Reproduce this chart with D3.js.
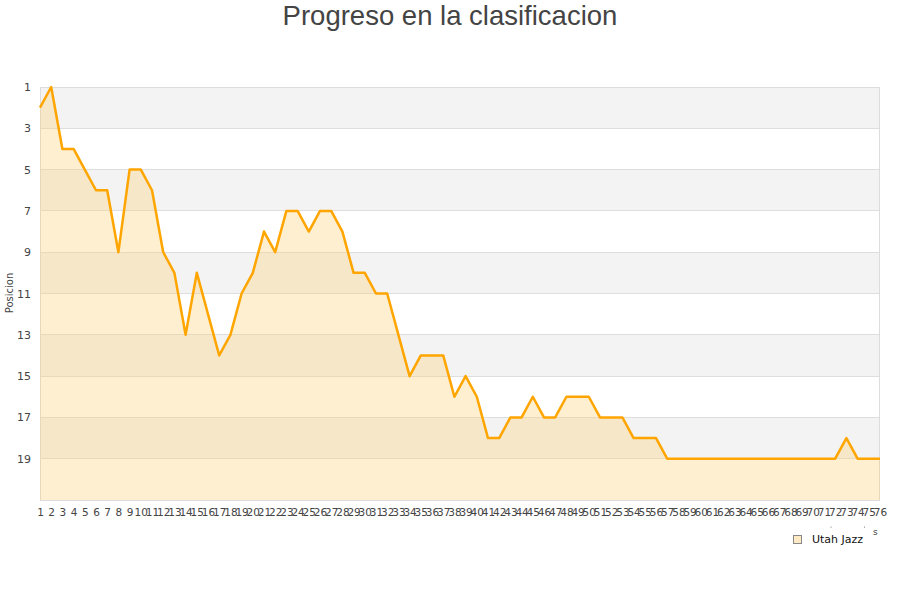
<!DOCTYPE html>
<html><head><meta charset="utf-8">
<script src="https://cdn.jsdelivr.net/npm/d3@7"></script>
<style>body{margin:0;background:#fff}svg{display:block}</style>
</head><body><svg id="c" width="900" height="600"></svg>
<script>
const jornadas = d3.range(1, 77);
const posiciones = [2,1,4,4,5,6,6,9,5,5,6,9,10,13,10,12,14,13,11,10,8,9,7,7,8,7,7,8,10,10,11,11,13,15,14,14,14,16,15,16,18,18,17,17,16,17,17,16,16,16,17,17,17,18,18,18,19,19,19,19,19,19,19,19,19,19,19,19,19,19,19,19,18,19,19,19];
const yTicks = [1,3,5,7,9,11,13,15,17,19];
const serieNombre = "Utah Jazz";
const titulo = "Progreso en la clasificacion";

const svg = d3.select("#c");
const L = 40, R = 880, T = 87, B = 500;
const x = d3.scalePoint().domain(jornadas).range([L, R]);
const y = d3.scaleLinear().domain([1, 21]).range([T, B]);

// bands
const bands = d3.range(1, 21, 2);
svg.selectAll("rect.band").data(bands).enter().append("rect")
  .attr("x", L).attr("width", R - L)
  .attr("y", d => y(d)).attr("height", d => y(d + 2) - y(d))
  .attr("fill", (d, i) => i % 2 === 0 ? "#f3f3f3" : "#ffffff");

// grid lines
svg.selectAll("line.grid").data(yTicks).enter().append("line")
  .attr("x1", L).attr("x2", R).attr("y1", d => y(d)).attr("y2", d => y(d))
  .attr("stroke", "#dedede").attr("stroke-width", 1).attr("shape-rendering", "crispEdges");

// plot border
svg.append("rect").attr("x", L + 0.5).attr("y", T + 0.5).attr("width", R - L - 1).attr("height", B - T)
  .attr("fill", "none").attr("stroke", "#dcdcdc").attr("shape-rendering", "crispEdges");

const data = jornadas.map((j, i) => ({j, p: posiciones[i]}));

svg.append("path").datum(data)
  .attr("d", d3.area().x(d => x(d.j)).y0(B).y1(d => y(d.p)))
  .attr("fill", "#ffd27a").attr("fill-opacity", 0.35);

svg.append("path").datum(data)
  .attr("d", d3.line().x(d => x(d.j)).y(d => y(d.p)))
  .attr("fill", "none").attr("stroke", "#ffa500").attr("stroke-width", 2.5)
  .attr("stroke-linejoin", "round");

// y axis
const yAxis = svg.append("g").attr("transform", `translate(${L},0)`)
  .call(d3.axisLeft(y).tickValues(yTicks).tickSize(0).tickPadding(9));
yAxis.select(".domain").remove();
yAxis.selectAll("text").attr("font-family", "DejaVu Sans").attr("font-size", 11).attr("fill", "#444");

// x axis
const xAxis = svg.append("g").attr("transform", `translate(0,${B})`)
  .call(d3.axisBottom(x).tickSize(0).tickPadding(9));
xAxis.select(".domain").remove();
xAxis.selectAll("text").attr("font-family", "DejaVu Sans").attr("font-size", 10.5).attr("fill", "#444");

// y title
svg.append("text").attr("transform", "translate(13,293) rotate(-90)")
  .attr("text-anchor", "middle").attr("font-family", "DejaVu Sans").attr("font-size", 10)
  .attr("fill", "#444").text("Posicion");

// title
svg.append("text").attr("x", 450).attr("y", 25).attr("text-anchor", "middle")
  .attr("font-family", "Liberation Sans, Arial").attr("font-size", 27.5).attr("fill", "#444")
  .text(titulo);

// legend
svg.append("rect").attr("x", 793.5).attr("y", 535.5).attr("width", 8).attr("height", 8)
  .attr("fill", "#fde9c4").attr("stroke", "#888");
svg.append("text").attr("x", 812).attr("y", 543).attr("font-family", "DejaVu Sans")
  .attr("font-size", 11).attr("fill", "#111").text(serieNombre);
svg.append("text").attr("x", 873).attr("y", 535).attr("font-family", "DejaVu Sans")
  .attr("font-size", 9).attr("fill", "#444").text("s");
svg.append("circle").attr("cx", 831).attr("cy", 527).attr("r", 0.6).attr("fill", "#666");
svg.append("circle").attr("cx", 864.5).attr("cy", 527).attr("r", 0.6).attr("fill", "#666");
</script></body></html>
